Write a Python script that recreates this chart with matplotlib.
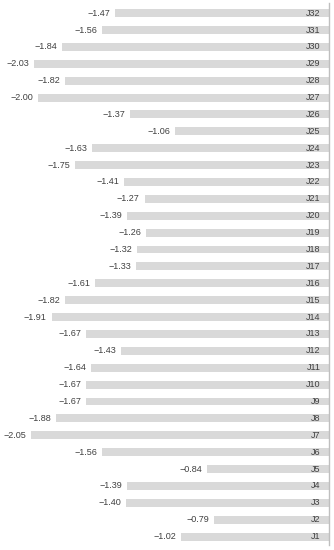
import numpy as np
import matplotlib.pyplot as plt

labels = [f"J{i}" for i in range(1, 33)]
values = [-1.02, -0.79, -1.40, -1.39, -0.84, -1.56, -2.05, -1.88,
          -1.67, -1.67, -1.64, -1.43, -1.67, -1.91, -1.82, -1.61,
          -1.33, -1.32, -1.26, -1.39, -1.27, -1.41, -1.75, -1.63,
          -1.06, -1.37, -2.00, -1.82, -2.03, -1.84, -1.56, -1.47]

plt.rcParams['font.family'] = ['Liberation Sans', 'DejaVu Sans']

fig = plt.figure(figsize=(3.34, 5.5), dpi=100)
ax = fig.add_axes([0, 5 / 550, 329 / 334, 542 / 550])

y = np.arange(len(values))
ax.barh(y, values, height=0.47, color="#d9d9d9")

for yi, v, lab in zip(y, values, labels):
    ax.annotate(f"{v:.2f}".replace("-", "\u2212"), (v, yi), xytext=(-3.5, 0),
                textcoords="offset points", ha="right", va="center",
                fontsize=6.5, color="#404040")
    ax.annotate(lab, (0, yi), xytext=(-6, 0), textcoords="offset points",
                ha="right", va="center", fontsize=6.5, color="#404040")

ax.set_xlim(-2.265, 0)
ax.set_ylim(-0.5, 31.6)
ax.set_xticks([])
ax.set_yticks([])
for s in ["top", "bottom", "left"]:
    ax.spines[s].set_visible(False)
ax.spines["right"].set_color("#bfbfbf")
ax.spines["right"].set_linewidth(1.0)

fig.savefig("out.png", dpi=100)
